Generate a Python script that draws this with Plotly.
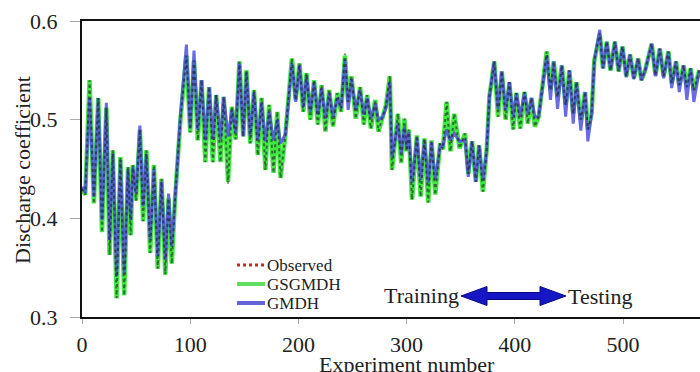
import plotly.graph_objects as go

# ---------------- data (local peaks / troughs) ----------------
exp_no = [0, 3, 7, 11, 15, 18.5, 22.5, 25.5, 28.5, 32, 35.5, 39, 42.5, 45, 47, 50, 53.5, 56.5,
          59.5, 63, 66.5, 70, 73.5, 77, 80, 83, 86, 91, 96.5, 100, 103.5, 107, 110.5, 114,
          117.5, 121, 124, 128, 131, 135, 138.5, 142, 145.5, 149, 152, 155.5, 159, 162.5,
          166, 169.5, 173, 177, 180.5, 183.5, 188, 194, 197.5, 201, 204.5, 207.5, 211,
          214.5, 218, 221.5, 225, 228.5, 232, 236, 239.5, 243, 246, 249, 253, 257, 260.5,
          263.5, 267, 271, 274, 278, 281, 284.5, 286.5, 292, 295, 298, 300, 302, 305,
          309.5, 313, 316.5, 320, 323, 326.5, 331, 333.5, 337, 340.5, 344, 349, 354, 357,
          360.5, 364, 367, 370.5, 374, 376.5, 381, 384.5, 388, 391.5, 395, 398.5, 401.5,
          405, 409, 412, 415.5, 418.5, 422, 429.5, 433, 436, 439.5, 443.5, 447, 450.5, 454,
          457, 461, 465, 467.5, 471, 473.5, 478.5, 481.5, 485, 488.5, 492.5, 496, 499.5,
          503, 506.5, 510, 514, 517, 520.5, 526.5, 530, 534, 537.5, 542, 545, 549, 552,
          556, 559, 562.5, 565.5, 570.5]

observed = [0.430, 0.424, 0.540, 0.415, 0.522, 0.386, 0.512, 0.363, 0.469, 0.319, 0.462, 0.322,
            0.452, 0.383, 0.454, 0.418, 0.490, 0.397, 0.469, 0.365, 0.454, 0.349, 0.440, 0.343,
            0.420, 0.354, 0.420, 0.500, 0.565, 0.487, 0.560, 0.479, 0.540, 0.457, 0.533, 0.457,
            0.525, 0.457, 0.523, 0.435, 0.513, 0.480, 0.559, 0.483, 0.550, 0.476, 0.530, 0.464,
            0.522, 0.449, 0.515, 0.446, 0.508, 0.441, 0.485, 0.562, 0.520, 0.557, 0.508, 0.547,
            0.500, 0.540, 0.495, 0.535, 0.488, 0.530, 0.493, 0.527, 0.508, 0.567, 0.518, 0.544,
            0.501, 0.533, 0.495, 0.525, 0.491, 0.520, 0.488, 0.503, 0.515, 0.544, 0.449, 0.506,
            0.456, 0.501, 0.468, 0.490, 0.419, 0.484, 0.422, 0.481, 0.416, 0.479, 0.424, 0.476,
            0.470, 0.518, 0.468, 0.506, 0.471, 0.486, 0.445, 0.478, 0.437, 0.474, 0.427, 0.469,
            0.523, 0.559, 0.503, 0.549, 0.500, 0.538, 0.490, 0.527, 0.491, 0.528, 0.496, 0.522,
            0.493, 0.503, 0.569, 0.530, 0.559, 0.523, 0.555, 0.515, 0.550, 0.506, 0.538, 0.500,
            0.528, 0.490, 0.506, 0.560, 0.588, 0.552, 0.579, 0.550, 0.579, 0.549, 0.574, 0.544,
            0.566, 0.542, 0.562, 0.540, 0.550, 0.577, 0.545, 0.572, 0.544, 0.569, 0.537, 0.559,
            0.535, 0.555, 0.533, 0.552, 0.530, 0.550]

gsgmdh = [0.430, 0.424, 0.540, 0.415, 0.522, 0.386, 0.512, 0.363, 0.469, 0.319, 0.462, 0.322,
          0.452, 0.383, 0.454, 0.418, 0.490, 0.397, 0.469, 0.365, 0.454, 0.349, 0.440, 0.343,
          0.420, 0.354, 0.420, 0.500, 0.565, 0.487, 0.560, 0.479, 0.540, 0.457, 0.533, 0.457,
          0.525, 0.457, 0.523, 0.437, 0.513, 0.480, 0.559, 0.483, 0.550, 0.476, 0.530, 0.464,
          0.522, 0.449, 0.515, 0.446, 0.508, 0.441, 0.485, 0.562, 0.520, 0.557, 0.508, 0.547,
          0.500, 0.540, 0.495, 0.535, 0.488, 0.530, 0.493, 0.527, 0.508, 0.565, 0.518, 0.544,
          0.501, 0.533, 0.495, 0.525, 0.491, 0.520, 0.488, 0.503, 0.515, 0.544, 0.449, 0.506,
          0.456, 0.501, 0.468, 0.490, 0.419, 0.484, 0.422, 0.481, 0.416, 0.479, 0.424, 0.476,
          0.470, 0.518, 0.468, 0.506, 0.471, 0.486, 0.445, 0.478, 0.437, 0.474, 0.427, 0.469,
          0.523, 0.559, 0.503, 0.549, 0.500, 0.538, 0.490, 0.527, 0.491, 0.528, 0.496, 0.522,
          0.493, 0.503, 0.569, 0.530, 0.559, 0.523, 0.555, 0.515, 0.550, 0.506, 0.538, 0.500,
          0.528, 0.490, 0.506, 0.560, 0.586, 0.552, 0.579, 0.550, 0.579, 0.549, 0.574, 0.544,
          0.566, 0.542, 0.562, 0.540, 0.550, 0.577, 0.545, 0.572, 0.544, 0.569, 0.537, 0.559,
          0.535, 0.555, 0.533, 0.552, 0.530, 0.550]

gmdh = [0.432, 0.426, 0.522, 0.422, 0.522, 0.398, 0.517, 0.378, 0.466, 0.341, 0.459, 0.344,
        0.450, 0.398, 0.452, 0.425, 0.494, 0.412, 0.465, 0.378, 0.450, 0.362, 0.437, 0.358,
        0.425, 0.371, 0.420, 0.505, 0.576, 0.491, 0.570, 0.490, 0.540, 0.479, 0.533, 0.480,
        0.525, 0.480, 0.523, 0.483, 0.510, 0.487, 0.557, 0.483, 0.548, 0.483, 0.528, 0.479,
        0.517, 0.478, 0.508, 0.479, 0.500, 0.476, 0.485, 0.557, 0.518, 0.555, 0.513, 0.545,
        0.508, 0.538, 0.505, 0.532, 0.501, 0.527, 0.503, 0.522, 0.512, 0.561, 0.510, 0.541,
        0.510, 0.530, 0.505, 0.522, 0.501, 0.516, 0.500, 0.503, 0.512, 0.538, 0.462, 0.496,
        0.466, 0.493, 0.470, 0.488, 0.436, 0.482, 0.439, 0.479, 0.436, 0.477, 0.439, 0.474,
        0.473, 0.490, 0.479, 0.486, 0.478, 0.479, 0.442, 0.478, 0.437, 0.474, 0.439, 0.469,
        0.523, 0.559, 0.511, 0.549, 0.510, 0.538, 0.503, 0.527, 0.503, 0.528, 0.506, 0.522,
        0.503, 0.503, 0.565, 0.520, 0.559, 0.511, 0.555, 0.503, 0.550, 0.496, 0.538, 0.489,
        0.528, 0.478, 0.506, 0.560, 0.591, 0.552, 0.579, 0.550, 0.579, 0.549, 0.574, 0.543,
        0.566, 0.541, 0.562, 0.540, 0.550, 0.577, 0.544, 0.572, 0.542, 0.569, 0.532, 0.559,
        0.528, 0.555, 0.520, 0.552, 0.518, 0.550]

series_names = ["Observed", "GSGMDH", "GMDH"]
x_ticks = [0, 100, 200, 300, 400, 500]
y_ticks = [0.3, 0.4, 0.5, 0.6]
x_title = "Experiment number"
y_title = "Discharge coefficient"
left_label = "Training"
right_label = "Testing"

# ---------------- styling / layout ----------------
W, H = 700, 372
L, R, T, B = 82, 0, 21, 55
PW, PH = W - L - R, H - T - B
FONT = "Liberation Serif"


def fx(p):  # pixel x -> paper
    return (p - L) / PW


def fy(p):  # pixel y -> paper
    return (H - B - p) / PH


fig = go.Figure()
fig.add_trace(go.Scatter(x=exp_no, y=gsgmdh, mode="lines", name=series_names[1],
                         line=dict(color="rgba(45,228,45,0.9)", width=4.5), showlegend=False))
fig.add_trace(go.Scatter(x=exp_no, y=gmdh, mode="lines", name=series_names[2],
                         line=dict(color="rgba(80,80,222,0.85)", width=3), showlegend=False))
fig.add_trace(go.Scatter(x=exp_no, y=observed, mode="lines", name=series_names[0],
                         line=dict(color="rgba(25,15,35,0.55)", width=2, dash="dot"),
                         showlegend=False))

shapes = []
annotations = []

# custom legend
leg_rows = [(265, dict(color="#c42a2a", width=3, dash="dot")),
            (284, dict(color="#5ee05e", width=4)),
            (303, dict(color="#6464d8", width=4))]
for name, (yy, ln) in zip(series_names, leg_rows):
    shapes.append(dict(type="line", xref="paper", yref="paper",
                       x0=fx(237), x1=fx(265), y0=fy(yy), y1=fy(yy), line=ln))
    annotations.append(dict(text=name, xref="paper", yref="paper", x=fx(265), y=fy(yy),
                            xanchor="left", yanchor="middle", showarrow=False,
                            font=dict(family=FONT, size=17, color="#222")))

# double arrow between Training and Testing
pts = [(461, 296), (487, 286.5), (487, 292.5), (540, 292.5), (540, 286.5), (566, 296),
       (540, 305.5), (540, 299.5), (487, 299.5), (487, 305.5)]
path = "M " + " L ".join(f"{fx(a):.5f},{fy(b):.5f}" for a, b in pts) + " Z"
shapes.append(dict(type="path", xref="paper", yref="paper", path=path,
                   fillcolor="#1616c4", line=dict(color="#0a0a80", width=1)))

annotations.append(dict(text=left_label, xref="paper", yref="paper", x=fx(461), y=fy(295),
                        xanchor="right", yanchor="middle", showarrow=False,
                        font=dict(family=FONT, size=22, color="#222")))
annotations.append(dict(text=right_label, xref="paper", yref="paper", x=fx(566), y=fy(296),
                        xanchor="left", yanchor="middle", showarrow=False,
                        font=dict(family=FONT, size=22, color="#222")))

# axis titles
annotations.append(dict(text=x_title, xref="x", yref="paper", x=300.8, y=fy(350),
                        xanchor="center", yanchor="top", showarrow=False,
                        font=dict(family=FONT, size=22, color="#222")))
annotations.append(dict(text=y_title, xref="paper", yref="paper", x=fx(22), y=fy(170),
                        xanchor="center", yanchor="middle", showarrow=False, textangle=-90,
                        font=dict(family=FONT, size=22, color="#222")))

fig.update_layout(
    width=W, height=H,
    margin=dict(l=L, r=R, t=T, b=B, pad=0),
    paper_bgcolor="white", plot_bgcolor="white",
    showlegend=False,
    font=dict(family=FONT, color="#222"),
    shapes=shapes, annotations=annotations,
    xaxis=dict(range=[0, (W - L) / 1.082], tickvals=x_ticks, ticks="outside", ticklen=5,
               tickcolor="#aaaaaa", tickwidth=1, showline=True, linecolor="#111",
               linewidth=2, mirror=True, showgrid=False, zeroline=False, automargin=False,
               tickfont=dict(family=FONT, size=22, color="#222"), ticklabelstandoff=2),
    yaxis=dict(range=[0.3, 0.6], tickvals=y_ticks, tickformat=".1f", ticks="outside",
               ticklen=10, tickcolor="#aaaaaa", tickwidth=1, showline=True,
               linecolor="#111", linewidth=2, showgrid=False, zeroline=False,
               automargin=False,
               tickfont=dict(family=FONT, size=22, color="#222"), ticklabelstandoff=8),
)

fig.write_html("out.html", config={"displayModeBar": False},
               post_script="document.body.style.margin='0';")
